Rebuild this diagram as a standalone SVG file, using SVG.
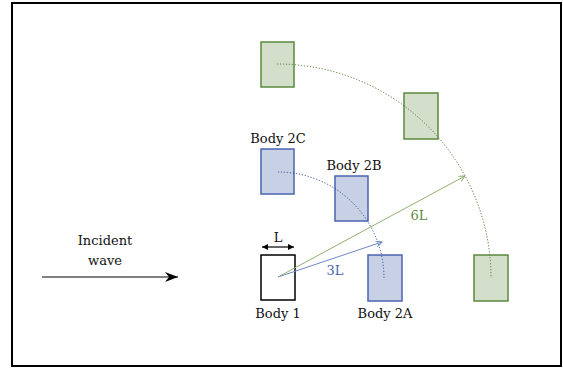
<svg xmlns="http://www.w3.org/2000/svg" width="563" height="368" viewBox="0 0 563 368">
<style>
text{font-family:"DejaVu Serif","Liberation Serif",serif;font-size:13px;fill:#111;text-anchor:middle}
.g{fill:#d3dfca;stroke:#5b8a3c;stroke-width:1.5}
.b{fill:#c8d0e6;stroke:#4a64b0;stroke-width:1.5}
.gd{fill:none;stroke:#4e7a30;stroke-width:1;stroke-dasharray:1.2 1.8}
.bd{fill:none;stroke:#2f4f9f;stroke-width:1;stroke-dasharray:1.2 1.8}
</style>
<defs>
<marker id="ab" markerWidth="8" markerHeight="8" refX="6" refY="3" orient="auto" markerUnits="userSpaceOnUse">
<path d="M0,0 L6,3 L0,6" fill="none" stroke="#6f86c6" stroke-width="1"/>
</marker>
<marker id="ag" markerWidth="8" markerHeight="8" refX="6" refY="3" orient="auto" markerUnits="userSpaceOnUse">
<path d="M0,0 L6,3 L0,6" fill="none" stroke="#8fb06f" stroke-width="1"/>
</marker>
<marker id="ak" markerWidth="14" markerHeight="10" refX="13" refY="5" orient="auto" markerUnits="userSpaceOnUse">
<path d="M0,0 L13,5 L0,10 L4,5 Z" fill="#000"/>
</marker>
<marker id="as" markerWidth="8" markerHeight="8" refX="6" refY="3" orient="auto-start-reverse" markerUnits="userSpaceOnUse">
<path d="M0,0 L6,3 L0,6 Z" fill="#000"/>
</marker>
</defs>
<rect x="12" y="3" width="549" height="363" fill="#fff" stroke="#000" stroke-width="2"/>
<g id="body1"><rect x="261" y="255" width="34" height="45" fill="#fff" stroke="#000" stroke-width="1.5"/><text x="278" y="318">Body 1</text></g>
<g id="body2a"><rect class="b" x="368" y="255" width="34" height="46"/><text x="385" y="318">Body 2A</text></g>
<g id="body2b"><rect class="b" x="335" y="176" width="33" height="45"/><text x="354" y="170">Body 2B</text></g>
<g id="body2c"><rect class="b" x="261" y="149" width="33" height="45"/><text x="278" y="143">Body 2C</text></g>
<g id="green1"><rect class="g" x="261" y="42" width="33" height="45"/></g>
<g id="green2"><rect class="g" x="404" y="93" width="34" height="46"/></g>
<g id="green3"><rect class="g" x="474" y="255" width="34" height="46"/></g>
<g id="connectors">
<path class="bd" d="M278 172 A106 106 0 0 1 384 278"/>
<path class="gd" d="M277 64 A214 214 0 0 1 491 278"/>
<line x1="278" y1="277" x2="382" y2="242" stroke="#6f86c6" stroke-width="1" marker-end="url(#ab)"/>
<line x1="278" y1="277" x2="465" y2="176" stroke="#8fb06f" stroke-width="1" marker-end="url(#ag)"/>
<line x1="42" y1="277" x2="178" y2="277" stroke="#000" stroke-width="1.2" marker-end="url(#ak)"/>
<line x1="262" y1="247" x2="294" y2="247" stroke="#000" stroke-width="1.2" marker-start="url(#as)" marker-end="url(#as)"/>
</g>
<g id="labels">
<text x="278" y="242">L</text>
<text x="335" y="275" style="fill:#4a64b0">3L</text>
<text x="419" y="220" style="fill:#5b8a3c">6L</text>
<text x="105" y="245">Incident</text>
<text x="105" y="265">wave</text>
</g>
</svg>
